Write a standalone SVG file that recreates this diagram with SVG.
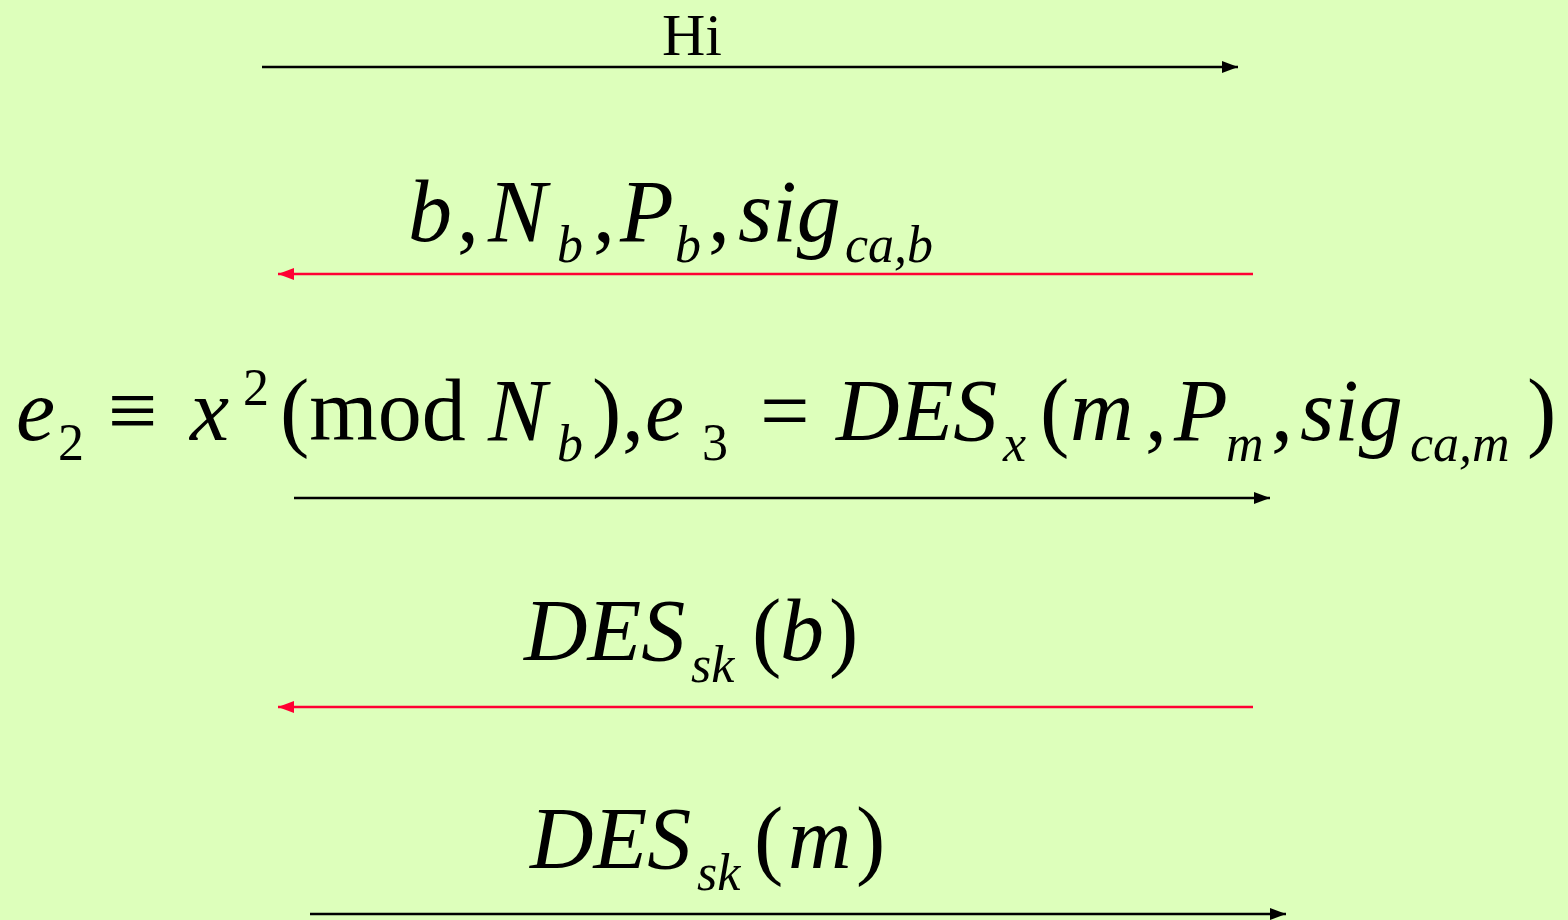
<svg xmlns="http://www.w3.org/2000/svg" width="1568" height="920" viewBox="0 0 1568 920">
<defs>
<style>
.t{font-family:"Liberation Serif","Times New Roman",serif;fill:#000}
.i{font-style:italic}
.m{font-size:88px}
.s{font-size:52px}
.blk{stroke:#000;stroke-width:2.5;fill:none}
.red{stroke:#FF0033;stroke-width:2.5;fill:none}
</style>
<marker id="ab" markerWidth="16" markerHeight="12" refX="16" refY="6" orient="auto" markerUnits="userSpaceOnUse"><path d="M0,0 L16,6 L0,12 Z" fill="#000"/></marker>
<marker id="ar" markerWidth="16" markerHeight="12" refX="16" refY="6" orient="auto" markerUnits="userSpaceOnUse"><path d="M0,0 L16,6 L0,12 Z" fill="#FF0033"/></marker>
</defs>
<rect x="0" y="0" width="1568" height="920" fill="#DDFFBB"/>
<g id="connectors">
<line class="blk" x1="262" y1="67" x2="1238" y2="67" marker-end="url(#ab)"/>
<line class="red" x1="1253" y1="274" x2="278" y2="274" marker-end="url(#ar)"/>
<line class="blk" x1="294" y1="498" x2="1270" y2="498" marker-end="url(#ab)"/>
<line class="red" x1="1253" y1="707" x2="278" y2="707" marker-end="url(#ar)"/>
<line class="blk" x1="310" y1="914" x2="1286" y2="914" marker-end="url(#ab)"/>
</g>
<g id="label-hi">
<text class="t" x="662" y="55" font-size="60">Hi</text>
</g>
<g id="label-2">
<text class="t m i" x="408" y="241">b</text>
<text class="t m" x="457" y="241">,</text>
<text class="t m i" x="488" y="241">N</text>
<text class="t s i" x="557" y="262">b</text>
<text class="t m" x="593" y="241">,</text>
<text class="t m i" x="620" y="241">P</text>
<text class="t s i" x="675" y="262">b</text>
<text class="t m" x="708" y="241">,</text>
<text class="t m i" x="738" y="241">sig</text>
<text class="t s i" x="845" y="262">ca,b</text>
</g>
<g id="label-3">
<text class="t m i" x="16" y="440">e</text>
<text class="t s" x="58" y="460">2</text>
<text class="t m" x="108" y="440">≡</text>
<text class="t m i" x="190" y="440">x</text>
<text class="t s" x="243" y="405">2</text>
<text class="t m" x="280" y="440">(mod</text>
<text class="t m i" x="488" y="440">N</text>
<text class="t s i" x="557" y="461">b</text>
<text class="t m" x="592" y="440">)</text>
<text class="t m" x="622" y="440">,</text>
<text class="t m i" x="645" y="440">e</text>
<text class="t s" x="702" y="460">3</text>
<text class="t m" x="760" y="440">=</text>
<text class="t m i" x="836" y="440">DES</text>
<text class="t s i" x="1003" y="461">x</text>
<text class="t m" x="1040" y="440">(</text>
<text class="t m i" x="1070" y="440">m</text>
<text class="t m" x="1145" y="440">,</text>
<text class="t m i" x="1174" y="440">P</text>
<text class="t s i" x="1226" y="461">m</text>
<text class="t m" x="1271" y="440">,</text>
<text class="t m i" x="1300" y="440">sig</text>
<text class="t s i" x="1410" y="461">ca,m</text>
<text class="t m" x="1527" y="440">)</text>
</g>
<g id="label-4">
<text class="t m i" x="524" y="660">DES</text>
<text class="t s i" x="691" y="682">sk</text>
<text class="t m" x="752" y="660">(</text>
<text class="t m i" x="780" y="660">b</text>
<text class="t m" x="829" y="660">)</text>
</g>
<g id="label-5">
<text class="t m i" x="530" y="868">DES</text>
<text class="t s i" x="697" y="890">sk</text>
<text class="t m" x="754" y="868">(</text>
<text class="t m i" x="788" y="868">m</text>
<text class="t m" x="856" y="868">)</text>
</g>
</svg>
